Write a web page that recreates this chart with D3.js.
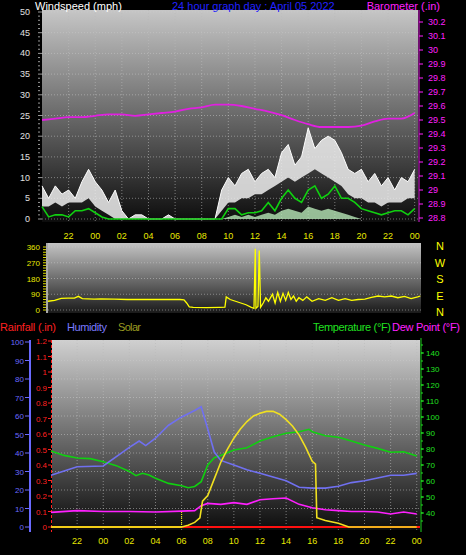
<!DOCTYPE html>
<html><head><meta charset="utf-8">
<script src="https://cdn.jsdelivr.net/npm/d3@7"></script>
<style>body{margin:0;background:#000}svg{display:block}text{font-family:"Liberation Sans",Arial,sans-serif}</style>
</head><body><svg id="c" width="466" height="555"></svg>
<script>
// ---- DATA (time = hours since 20:00 on previous day) ----
const hourTicks = ["22","00","02","04","06","08","10","12","14","16","18","20","22","00"];
const windStep = 0.5;
const gustHigh = [8,5,8,6,7,5,9,12, 9,7,4,7,2,0,1,1, 0,0,0,1,0,0,0,0, 0,0,0,7,10,8,11,12, 9,11,12,10,16,18,13,15, 22,17,19,20,19,16,12,11, 12,9,11,8,10,7,10,9, 12];
const gustLow  = [3,3,4,3,4,4,4,5, 3,2,1,0,0,0,0,0, 0,0,0,0,0,0,0,0, 0,0,0,2,4,4,5,5, 6,6,7,8,9,10,9,10, 11,12,11,10,9,8,6,5, 5,4,4,3,4,4,4,5, 5];
const windAvg  = [3,0.5,1,1,0.5,2,2,2.5, 1.5,0.5,0,0,0,0,0,0, 0,0,0,0,0,0,0,0, 0,0,0,0,2.5,2.5,1,1.5, 1.5,2,4,2,5,7,5,4, 7,8,5,6,8,5,5,4, 2.5,2,1.5,1,1.5,2,2,1, 2.5];
const calmLow  = [0,0,0,0,0,0,0,0, 0,0,0,0,0,0,0,0, 0,0,0,0,0,0,0,0, 0,0,0,0,0.5,1,0.5,1, 0.5,1,1.5,1,2,2.5,2,1.5, 3,2.5,2,2.5,2,1.5,1,0.5, 0,0,0,0,0,0,0,0, 0];
const baroT = [0,1,2,3,4,5,6,7,8,9,10,11,12,13,14,15,16,17,18,19,20,21,22,23,24,25,26,27,28];
const baroV = [29.50,29.51,29.52,29.52,29.53,29.54,29.54,29.53,29.54,29.55,29.56,29.58,29.59,29.61,29.61,29.60,29.58,29.56,29.535,29.50,29.47,29.45,29.45,29.45,29.46,29.49,29.51,29.51,29.55];
const dirT = [0,0.5,1,1.5,2,2.3,2.6,3,3.5,4,5,6,7,8,9,10,10.3,10.5,10.7,11,12,13,13.4,13.5,13.8,14.2,14.6,15,15.4,15.6,15.7,15.75,15.9,16.0,16.1,16.3,16.5,16.7,17,17.2,17.4,17.6,17.8,18,18.2,18.4,18.6,18.8,19,19.3,19.6,20,20.5,21,21.5,22,22.5,23,23.5,24,24.5,25,25.5,26,26.5,27,27.5,28,28.2];
const dirV = [50,55,66,68,68,78,65,64,62,64,62,60,60,60,60,60,58,40,18,15,14,15,16,75,60,50,40,30,15,10,350,10,20,340,15,40,70,50,90,40,100,50,95,55,100,60,80,50,70,55,75,50,65,55,70,55,65,55,60,62,72,80,75,80,70,78,65,75,80];
const humT = [0,2,4,6,6.75,7.25,8,9,10,11,11.5,12,12.5,13,14,15,16,17,18,19,20,21,22,23,24,25,26,27,28];
const humV = [28,32.6,33,43,46.5,44,48,55,59.5,63,65,53,40.5,36,33.5,31,29,27,25,21.5,21,21,22,24,25,26.5,28,28,29];
const tempT = [0,1,2,3,4,5,6,6.5,7,7.5,8,9,10,10.5,11,11.5,12,12.5,13,14,15,16,17,18,19,19.75,20,21,22,23,24,25,26,27,28];
const tempV = [78.8,76,74.4,74,72,69.6,66,63.3,64.8,63.7,61.7,58.5,57,55.8,56.6,59.6,70,74.6,76,79.4,80.8,85,87.7,89.8,90.8,92.3,90.8,88.3,87.3,85,82.5,80.4,78,78.3,75.6];
const dewT = [0,2,4,6,8,10,11,11.5,12,13,14,15,16,17,18,19,20,21,22,23,24,25,26,27,28];
const dewV = [40.4,41.5,40.9,40.9,40.6,41.2,41.5,44.6,46,45.4,46.5,45.4,48.3,48.9,49.4,45.4,43.3,42,41.5,40.9,40.9,40.6,39.4,40.6,39.4];
const solarT = [0,10,10.5,11,11.4,11.6,12,12.5,13,13.5,14,14.5,15,15.5,16,16.5,17,17.5,18,18.5,19,19.5,20,20.25,20.35,21,22,22.8,28];
const solarV = [0,0,10,25,50,140,170,260,350,420,480,530,570,600,615,625,625,610,580,545,497,430,355,340,50,35,20,0,0];
const humLabels = [0,10,20,30,40,50,60,70,80,90,100];
const rainLabels = [0,0.1,0.2,0.3,0.4,0.5,0.6,0.7,0.8,0.9,1,1.1,1.2];
const tempLabels = [40,50,60,70,80,90,100,110,120,130,140];
const windLabels = [0,5,10,15,20,25,30,35,40,45,50];
const baroLabels = [28.8,28.9,29,29.1,29.2,29.3,29.4,29.5,29.6,29.7,29.8,29.9,30,30.1,30.2];
const dirLabels = [0,90,180,270,360];
const compass = ["N","W","S","E","N"];

// ---- DRAW ----
const svg = d3.select("#c");
const defs = svg.append("defs");
function grad(id, top, bot){
  const g = defs.append("linearGradient").attr("id",id).attr("x1",0).attr("x2",0).attr("y1",0).attr("y2",1);
  g.append("stop").attr("offset","0%").attr("stop-color",top);
  g.append("stop").attr("offset","100%").attr("stop-color",bot);
}
grad("g1","#c6c6c6","#0c0c0c"); grad("g2","#c4c4c4","#1a1a1a"); grad("g3","#d0d0d0","#0c0c0c");
const tickT = hourTicks.map((_,i)=>2+2*i);
function txt(x,y,s,c,sz,anchor){return svg.append("text").attr("x",x).attr("y",y).text(s).attr("fill",c).attr("font-size",sz).attr("text-anchor",anchor||"start");}

// Top panel
const x1 = d3.scaleLinear().domain([0,28.25]).range([42,418]);
const yW = d3.scaleLinear().domain([0,50]).range([219,12]);
const yB = d3.scaleLinear().domain([28.8,30.2]).range([218,22]);
svg.append("rect").attr("x",42).attr("y",10).attr("width",376).attr("height",212).attr("fill","url(#g1)");
tickT.forEach(t=>svg.append("line").attr("x1",x1(t)).attr("x2",x1(t)).attr("y1",10).attr("y2",222).attr("stroke","#bbb").attr("stroke-dasharray","1,2").attr("opacity",0.6));
windLabels.forEach(v=>{svg.append("line").attr("x1",42).attr("x2",418).attr("y1",yW(v)).attr("y2",yW(v)).attr("stroke","#ccc").attr("stroke-dasharray","1,2").attr("opacity",0.5);
  txt(30,yW(v)+3,v,"#e0e0e0",9,"end");});
d3.range(0,51,1).forEach(v=>svg.append("line").attr("x1",38).attr("x2",v%5?40:42).attr("y1",yW(v)).attr("y2",yW(v)).attr("stroke","#999"));
svg.append("line").attr("x1",419).attr("x2",419).attr("y1",10).attr("y2",222).attr("stroke","#e020e0");
baroLabels.forEach(v=>{txt(428,yB(v)+3,v,"#ff20ff",9);svg.append("line").attr("x1",419).attr("x2",423).attr("y1",yB(v)).attr("y2",yB(v)).attr("stroke","#ff20ff");});
hourTicks.forEach((h,i)=>txt(x1(tickT[i]),239,h,"#e8e800",9,"middle"));
const wi = gustHigh.map((v,i)=>({t:i*windStep,h:v,l:gustLow[i],a:windAvg[i],c:calmLow[i]}));
svg.append("path").datum(wi).attr("fill","#eeeeee").attr("opacity",0.85)
  .attr("d",d3.area().x(d=>x1(d.t)).y0(d=>yW(d.l)).y1(d=>yW(d.h)));
svg.append("path").datum(wi).attr("fill","#b8e8b8").attr("opacity",0.8)
  .attr("d",d3.area().x(d=>x1(d.t)).y0(yW(0)).y1(d=>yW(d.c)));
svg.append("path").datum(wi).attr("fill","none").attr("stroke","#ffffff").attr("stroke-width",1)
  .attr("d",d3.line().x(d=>x1(d.t)).y(d=>yW(d.h)));
svg.append("path").datum(wi).attr("fill","none").attr("stroke","#10d010").attr("stroke-width",1.6)
  .attr("d",d3.line().x(d=>x1(d.t)).y(d=>yW(d.a)));
svg.append("path").datum(baroT.map((t,i)=>[t,baroV[i]])).attr("fill","none").attr("stroke","#e020e0").attr("stroke-width",1.8)
  .attr("d",d3.line().x(d=>x1(d[0])).y(d=>yB(d[1])).curve(d3.curveMonotoneX));
txt(35,10,"Windspeed (mph)","#ffffff",11);
txt(172,10,"24 hour graph day : April 05 2022","#2020ff",11);
txt(440,10,"Barometer (.in)","#ff20ff",11,"end");

// Middle panel
const x2 = d3.scaleLinear().domain([0,28.25]).range([48,421]);
const yD = d3.scaleLinear().domain([0,360]).range([310,247]);
svg.append("rect").attr("x",48).attr("y",243).attr("width",373).attr("height",70).attr("fill","url(#g2)");
dirLabels.forEach(v=>{svg.append("line").attr("x1",48).attr("x2",421).attr("y1",yD(v)).attr("y2",yD(v)).attr("stroke","#ccc").attr("stroke-dasharray","1,2").attr("opacity",0.5);
  txt(40,yD(v)+3,v,"#e8e800",8,"end");});
svg.append("line").attr("x1",47).attr("x2",47).attr("y1",243).attr("y2",313).attr("stroke","#aaa").attr("stroke-width",2);
d3.range(0,361,15).forEach(v=>svg.append("line").attr("x1",43).attr("x2",46).attr("y1",yD(v)).attr("y2",yD(v)).attr("stroke","#dddd00"));
compass.forEach((c,i)=>txt(440,250+i*16.5,c,"#ffff00",11,"middle"));
svg.append("path").datum(dirT.map((t,i)=>[t,dirV[i]])).attr("fill","none").attr("stroke","#ffff00").attr("stroke-width",1.3)
  .attr("d",d3.line().x(d=>x2(d[0])).y(d=>yD(d[1])));

// Legend
txt(0,331,"Rainfall (.in)","#ff2020",11).attr("textLength",56);
txt(67,331,"Humidity","#7a7aff",11).attr("textLength",40);
txt(118,331,"Solar","#9a9a20",11).attr("textLength",23);
txt(313,331,"Temperature (°F)","#20e020",11).attr("textLength",78);
txt(392,331,"Dew Point (°F)","#ff20ff",11).attr("textLength",68);

// Bottom panel
const x3 = d3.scaleLinear().domain([0,28.25]).range([51,420]);
const yH = d3.scaleLinear().domain([0,100]).range([527,342]);
const yR = d3.scaleLinear().domain([0,1.2]).range([527,341]);
const yT = d3.scaleLinear().domain([40,140]).range([513,353]);
const yS = d3.scaleLinear().domain([0,1000]).range([527,342]);
svg.append("rect").attr("x",52).attr("y",340).attr("width",368).attr("height",190).attr("fill","url(#g3)");
tickT.forEach(t=>svg.append("line").attr("x1",x3(t)).attr("x2",x3(t)).attr("y1",340).attr("y2",530).attr("stroke","#bbb").attr("stroke-dasharray","1,2").attr("opacity",0.6));
humLabels.forEach(v=>{svg.append("line").attr("x1",52).attr("x2",420).attr("y1",yH(v)).attr("y2",yH(v)).attr("stroke","#ccc").attr("stroke-dasharray","1,2").attr("opacity",0.5);
  txt(24,yH(v)+3,v,"#6a6aff",8,"end");svg.append("line").attr("x1",25).attr("x2",29).attr("y1",yH(v)).attr("y2",yH(v)).attr("stroke","#6a6aff");});
svg.append("line").attr("x1",30).attr("x2",30).attr("y1",340).attr("y2",532).attr("stroke","#6a6aff").attr("stroke-width",2);
rainLabels.forEach(v=>{txt(47,yR(v)+3,v,"#ff2020",8,"end");svg.append("line").attr("x1",48).attr("x2",51).attr("y1",yR(v)).attr("y2",yR(v)).attr("stroke","#ff2020");});
svg.append("line").attr("x1",51.5).attr("x2",51.5).attr("y1",340).attr("y2",532).attr("stroke","#ff2020").attr("stroke-dasharray","3,2");
svg.append("line").attr("x1",421).attr("x2",421).attr("y1",338).attr("y2",532).attr("stroke","#20d020");
tempLabels.forEach(v=>{txt(426,yT(v)+3,v,"#20e020",8);svg.append("line").attr("x1",421).attr("x2",424).attr("y1",yT(v)).attr("y2",yT(v)).attr("stroke","#20e020");});
d3.range(35,146,5).forEach(v=>svg.append("line").attr("x1",421).attr("x2",423).attr("y1",yT(v)).attr("y2",yT(v)).attr("stroke","#20e020"));
hourTicks.forEach((h,i)=>txt(x3(tickT[i]),544,h,"#e8e800",9,"middle"));
const ln = (xs,ys,sc,c,w)=>svg.append("path").datum(xs.map((t,i)=>[t,ys[i]])).attr("fill","none").attr("stroke",c).attr("stroke-width",w)
  .attr("d",d3.line().x(d=>x3(d[0])).y(d=>sc(d[1])));
svg.append("line").attr("x1",x3(0)).attr("x2",x3(28.25)).attr("y1",yR(0)).attr("y2",yR(0)).attr("stroke","#ff9900").attr("stroke-width",2);
svg.append("line").attr("x1",x3(10)).attr("x2",x3(28.25)).attr("y1",yR(0)).attr("y2",yR(0)).attr("stroke","#ff1010").attr("stroke-width",2);
svg.append("line").attr("x1",x3(10)).attr("x2",x3(10)).attr("y1",yR(0)).attr("y2",yR(0.1)).attr("stroke","#ffff00").attr("stroke-dasharray","1,1");
ln(dewT,dewV,yT,"#ff20ff",1.6);
ln(tempT,tempV,yT,"#10d010",1.6);
ln(humT,humV,yH,"#7070f0",1.6);
ln(solarT,solarV,yS,"#f0e020",1.6);
</script></body></html>
